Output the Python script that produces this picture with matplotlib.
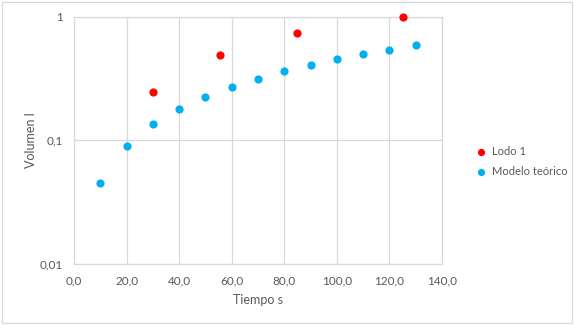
import matplotlib
matplotlib.use("Agg")
import matplotlib.pyplot as plt
from matplotlib.ticker import FixedLocator, FixedFormatter, NullLocator
from matplotlib.patches import Rectangle

lodo_t = [30, 55.5, 84.7, 125]
lodo_v = [0.248, 0.495, 0.746, 1.0]

modelo_t = [10, 20, 30, 40, 50, 60, 70, 80, 90, 100, 110, 120, 130]
modelo_v = [0.0453, 0.090, 0.135, 0.181, 0.226, 0.273, 0.317, 0.363, 0.406, 0.454, 0.499, 0.544, 0.593]

x_ticks = [0, 20, 40, 60, 80, 100, 120, 140]
x_labels = ["0,0", "20,0", "40,0", "60,0", "80,0", "100,0", "120,0", "140,0"]
y_ticks = [0.01, 0.1, 1]
y_labels = ["0,01", "0,1", "1"]

plt.rcParams['font.family'] = ['Lato', 'DejaVu Sans']
grey = '#595959'
gridc = '#d9d9d9'

fig = plt.figure(figsize=(5.74, 3.25), dpi=100)
ax = fig.add_axes([0.129, 0.188, 0.641, 0.760])

ax.scatter(lodo_t, lodo_v, s=24, color='#ff0000', label='Lodo 1', zorder=3, clip_on=False)
ax.scatter(modelo_t, modelo_v, s=24, color='#00b0f0', label='Modelo teórico', zorder=3, clip_on=False)

ax.set_yscale('log')
ax.set_xlim(0, 140)
ax.set_ylim(0.01, 1)
ax.xaxis.set_major_locator(FixedLocator(x_ticks))
ax.xaxis.set_major_formatter(FixedFormatter(x_labels))
ax.yaxis.set_major_locator(FixedLocator(y_ticks))
ax.yaxis.set_major_formatter(FixedFormatter(y_labels))
ax.yaxis.set_minor_locator(NullLocator())

ax.grid(True, color=gridc, linewidth=0.9)
ax.set_axisbelow(True)
for s in ax.spines.values():
    s.set_color(gridc)
    s.set_linewidth(0.9)
ax.tick_params(length=0, colors=grey, labelsize=8.5, pad=8)

ax.set_xlabel('Tiempo s', color=grey, fontsize=9, labelpad=6)
ax.set_ylabel('Volumen l', color=grey, fontsize=9, labelpad=2)

ax.legend(loc='center left', bbox_to_anchor=(1.075, 0.415), frameon=False,
          fontsize=8, handletextpad=0.05, labelspacing=0.75, markerscale=0.85,
          labelcolor=grey, borderpad=0, borderaxespad=0)

fig.patches.append(Rectangle((0.004, 0.006), 0.992, 0.988, transform=fig.transFigure,
                             fill=False, edgecolor=gridc, linewidth=0.9))

fig.savefig('out.png', dpi=100)
